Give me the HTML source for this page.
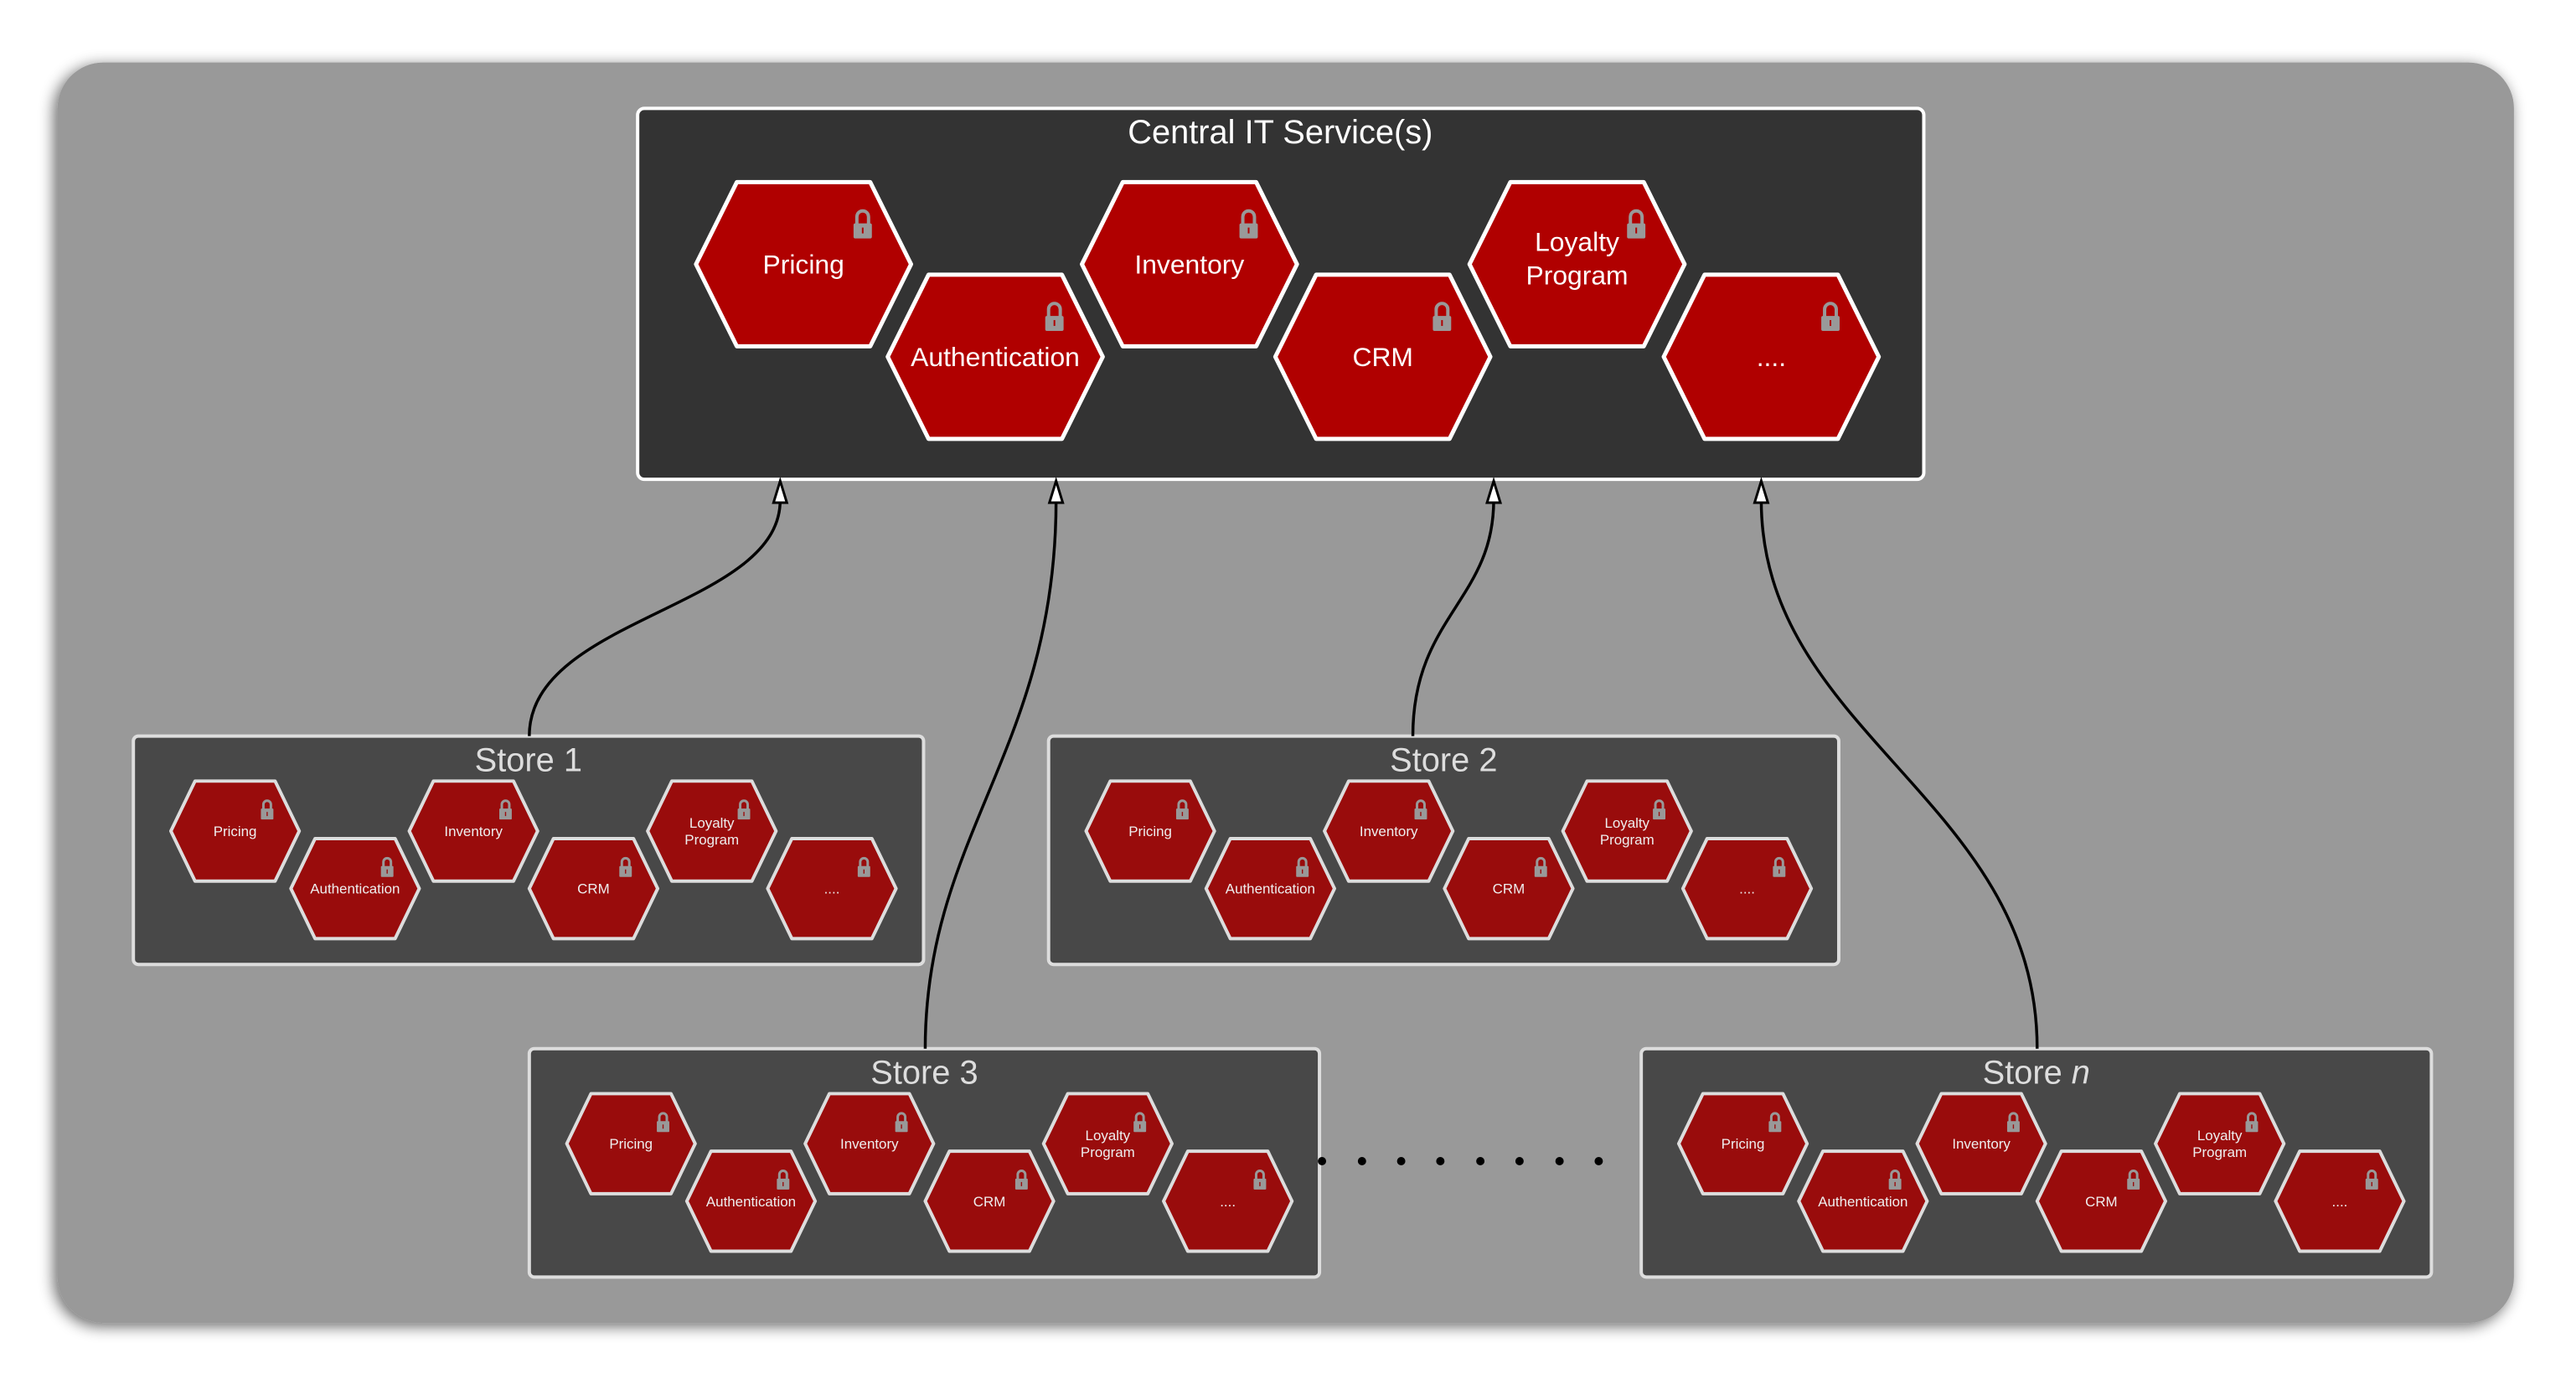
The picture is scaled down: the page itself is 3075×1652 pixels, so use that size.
<!DOCTYPE html>
<html><head><meta charset="utf-8"><style>
html,body{margin:0;padding:0;background:#fff;}
svg{display:block;font-family:"Liberation Sans",Arial,sans-serif;}
</style></head><body>
<svg width="3075" height="1652" viewBox="0 0 3075 1652" xmlns="http://www.w3.org/2000/svg">
<defs>
<filter id="sh" x="-5%" y="-5%" width="110%" height="110%"><feGaussianBlur in="SourceAlpha" stdDeviation="9"/><feOffset dx="-4" dy="4"/><feComponentTransfer><feFuncA type="linear" slope="0.6"/></feComponentTransfer><feMerge><feMergeNode/><feMergeNode in="SourceGraphic"/></feMerge></filter>
<g id="bh">
<polygon points="-129,0 -80,-98.5 80,-98.5 129,0 80,98.5 -80,98.5" fill="#b00000" stroke="#fff" stroke-width="5" stroke-linejoin="round"/>
<path d="M64 -48 V-57 a7 7 0 0 1 14 0 V-48" fill="none" stroke="#999" stroke-width="4"/>
<rect x="60" y="-49" width="22" height="18" rx="2" fill="#999"/>
<rect x="70" y="-44" width="2" height="7" fill="#b00000"/>
</g>
<g id="sm">
<polygon points="-77,0 -48,-60 48,-60 77,0 48,60 -48,60" fill="#990c0c" stroke="#ddd" stroke-width="4" stroke-linejoin="round"/>
<path d="M34 -26 V-32 a4.5 4.5 0 0 1 9 0 V-26" fill="none" stroke="#999" stroke-width="3"/>
<rect x="31" y="-27" width="15" height="13" rx="1" fill="#999"/>
<rect x="37.8" y="-23" width="1.4" height="5" fill="#990c0c"/>
</g>
<g id="store">
<rect x="0" y="0" width="948" height="274" rx="6" fill="#484848" stroke="#ddd" stroke-width="4"/>
<use href="#sm" x="122" y="114"/><use href="#sm" x="266" y="183"/><use href="#sm" x="408" y="114"/>
<use href="#sm" x="552" y="183"/><use href="#sm" x="694" y="114"/><use href="#sm" x="838" y="183"/>
<g fill="#eee" font-size="17" text-anchor="middle">
<text x="122" y="120">Pricing</text>
<text x="266" y="189">Authentication</text>
<text x="408" y="120">Inventory</text>
<text x="552" y="189">CRM</text>
<text x="694" y="110">Loyalty</text><text x="694" y="130">Program</text>
<text x="838" y="189">....</text>
</g>
</g>
</defs>
<g transform="scale(0.995)">
<rect x="69" y="75" width="2947" height="1512" rx="55" fill="#999" filter="url(#sh)"/>

<rect x="765" y="130" width="1543" height="445" rx="8" fill="#333" stroke="#fff" stroke-width="4"/>
<text x="1536" y="172" fill="#fff" font-size="40" text-anchor="middle">Central IT Service(s)</text>
<use href="#bh" x="964" y="317"/><use href="#bh" x="1194" y="428"/><use href="#bh" x="1427" y="317"/>
<use href="#bh" x="1659" y="428"/><use href="#bh" x="1892" y="317"/><use href="#bh" x="2125" y="428"/>
<g fill="#fff" font-size="32" text-anchor="middle">
<text x="964" y="328">Pricing</text>
<text x="1194" y="439">Authentication</text>
<text x="1427" y="328">Inventory</text>
<text x="1659" y="439">CRM</text>
<text x="1892" y="301">Loyalty</text><text x="1892" y="341">Program</text>
<text x="2125" y="439">....</text>
</g>

<g transform="translate(160,883)"><use href="#store"/><text x="474" y="42" fill="#ddd" font-size="40" text-anchor="middle">Store 1</text></g>
<g transform="translate(1258,883)"><use href="#store"/><text x="474" y="42" fill="#ddd" font-size="40" text-anchor="middle">Store 2</text></g>
<g transform="translate(635,1258)"><use href="#store"/><text x="474" y="42" fill="#ddd" font-size="40" text-anchor="middle">Store 3</text></g>
<g transform="translate(1969,1258)"><use href="#store"/><text x="474" y="42" fill="#ddd" font-size="40" text-anchor="middle">Store <tspan font-style="italic">n</tspan></text></g>

<g fill="none" stroke="#000" stroke-width="3.5">
<path d="M635 883 C635 740, 936 730, 936 600"/>
<path d="M1110 1258 C1110 1000, 1267 900, 1267 600"/>
<path d="M1695 883 C1695 740, 1792 720, 1792 600"/>
<path d="M2444 1258 C2444 960, 2113 880, 2113 600"/>
</g>
<g fill="#fff" stroke="#000" stroke-width="3" stroke-linejoin="miter">
<polygon points="936,577 928,603 944,603"/>
<polygon points="1267,577 1259,603 1275,603"/>
<polygon points="1792,577 1784,603 1800,603"/>
<polygon points="2113,577 2105,603 2121,603"/>
</g>
<g fill="#000">
<circle cx="1586" cy="1393" r="5"/><circle cx="1634" cy="1393" r="5"/><circle cx="1681" cy="1393" r="5"/><circle cx="1728" cy="1393" r="5"/>
<circle cx="1776" cy="1393" r="5"/><circle cx="1823" cy="1393" r="5"/><circle cx="1871" cy="1393" r="5"/><circle cx="1918" cy="1393" r="5"/>
</g>
</g>
</svg>
</body></html>
